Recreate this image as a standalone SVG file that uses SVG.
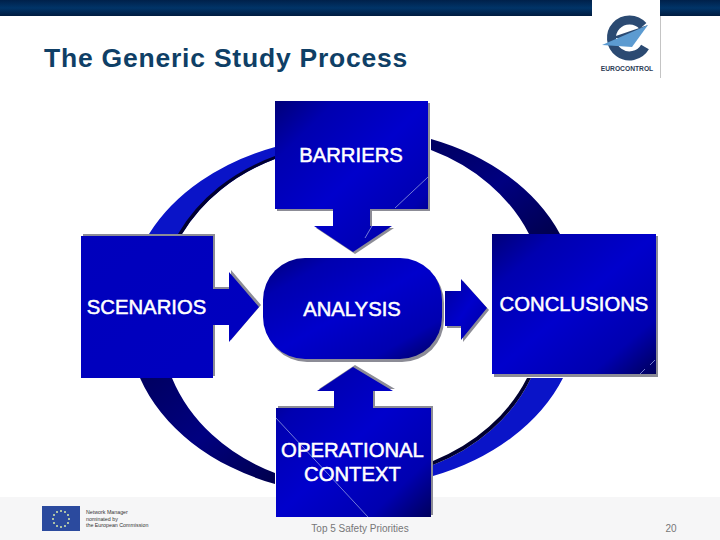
<svg xmlns="http://www.w3.org/2000/svg" width="720" height="540" viewBox="0 0 720 540">
<style>
.lbl{font-family:"Liberation Sans",Arial,sans-serif;font-size:20.3px;fill:#fff;stroke:#fff;stroke-width:.5px;text-anchor:middle}
.grey{fill:#8c8c96}
.thin{stroke:#8f9be0;stroke-width:.8;fill:none}
</style>
<defs>
<linearGradient id="hdr" x1="0" y1="0" x2="0" y2="1"><stop offset="0" stop-color="#00204a"/><stop offset=".5" stop-color="#013468"/><stop offset="1" stop-color="#001c40"/></linearGradient>
<linearGradient id="box" x1="0" y1="0" x2="1" y2="1"><stop offset="0" stop-color="#000078"/><stop offset=".2" stop-color="#0000b0"/><stop offset=".5" stop-color="#0000cc"/><stop offset=".8" stop-color="#0000b0"/><stop offset="1" stop-color="#00005c"/></linearGradient>
<linearGradient id="flat" x1="0" y1="0" x2="1" y2="1"><stop offset="0" stop-color="#0000bc"/><stop offset="1" stop-color="#0000c0"/></linearGradient>
<linearGradient id="arcD" x1="0" y1="0" x2="1" y2="1"><stop offset="0" stop-color="#000060"/><stop offset=".5" stop-color="#000080"/><stop offset="1" stop-color="#00004c"/></linearGradient>
</defs>
<rect width="720" height="540" fill="#fff"/>
<rect x="0" y="497" width="720" height="43" fill="#f6f6f7"/>
<g id="header">
<rect x="0" y="0" width="592" height="16" fill="url(#hdr)"/>
<rect x="660" y="0" width="60" height="16" fill="url(#hdr)"/>
<rect x="660" y="16" width="1" height="62" fill="#c4c4c4"/>
</g>
<text x="44" y="67" font-family="'Liberation Sans',Arial,sans-serif" font-size="26.500" font-weight="bold" letter-spacing=".78" fill="#0f3f66">The Generic Study Process</text>
<g id="logo">
<path d="M643 26A18 18 0 1 0 645 47" fill="none" stroke="#2b4a72" stroke-width="9"/>
<path d="M610 38L648 25L630 38Z" fill="#2b4a72"/>
<path d="M602 45L648 25L632 47Z" fill="#5c9bd1"/>
<text x="627" y="71" font-family="'Liberation Sans',Arial,sans-serif" font-size="6.700" font-weight="bold" fill="#2b3b55" text-anchor="middle">EUROCONTROL</text>
</g>
<g id="connectors">
<path d="M275 147A225 171 0 0 0 149 234L182 234A191 163 0 0 1 275 159Z" fill="#0a14c8"/>
<path d="M275 156A191 163 0 0 0 178 234L182 234A191 163 0 0 1 275 159Z" fill="#000030"/>
<path d="M431 139A225 171 0 0 1 560 234L529 234A191 163 0 0 0 431 150Z" fill="url(#arcD)"/>
<path d="M140 378A225 171 0 0 0 275 484L275 473A191 163 0 0 1 172 378Z" fill="url(#arcD)"/>
<path d="M563 378A225 171 0 0 1 433 476L433 465A191 163 0 0 0 531 378Z" fill="#0a14c8"/>
<path d="M433 465A191 163 0 0 0 531 378L527 378A191 163 0 0 1 433 461Z" fill="#000030"/>
</g>
<g id="barriers">
<path class="grey" transform="translate(2,2)" d="M275 101H428V209H370V226H392L353 252L314 226H333V209H275Z"/>
<path fill="url(#box)" d="M275 101H428V209H370V226H392L353 252L314 226H333V209H275Z"/>
<path class="thin" d="M428 177L395 208M372 226L365 238"/>
<text class="lbl" x="351" y="162">BARRIERS</text>
</g>
<g id="scenarios">
<path class="grey" transform="translate(2,-2)" d="M81 236H213V289H229V272L259 307L229 342V325H213V378H81Z"/>
<path fill="url(#flat)" d="M81 236H213V289H229V272L259 307L229 342V325H213V378H81Z"/>
<text class="lbl" x="146.500" y="314">SCENARIOS</text>
</g>
<g id="analysis">
<rect class="grey" x="265" y="261" width="179" height="101" rx="42" ry="42"/>
<rect fill="url(#box)" x="263" y="258" width="179" height="101" rx="42" ry="42"/>
<text class="lbl" x="352" y="316">ANALYSIS</text>
</g>
<g id="conclusions">
<path class="grey" transform="translate(2,2)" d="M445 291H461V279L487 308L461 340V326H445Z"/>
<rect class="grey" x="494" y="236" width="164" height="141"/>
<path fill="url(#box)" d="M445 291H461V279L487 308L461 340V326H445Z"/>
<rect fill="url(#box)" x="492" y="234" width="164" height="140"/>
<path class="thin" d="M655 360L650 365M645 369L640 374"/>
<text class="lbl" x="574" y="311">CONCLUSIONS</text>
</g>
<g id="operational">
<path class="grey" transform="translate(2,-2)" d="M276 408H334V391H317L353 367L393 391H373V408H431V517H276Z"/>
<path fill="url(#box)" d="M276 408H334V391H317L353 367L393 391H373V408H431V517H276Z"/>
<path class="thin" d="M276 418L368 517"/>
<text class="lbl" x="352.500" y="457">OPERATIONAL</text>
<text class="lbl" x="352.500" y="481">CONTEXT</text>
</g>
<g id="footer">
<rect x="42" y="506" width="38" height="25" fill="#2b4a9e"/>
<g fill="#d8e8a8">
<circle cx="61" cy="511" r="1"/><circle cx="65" cy="512" r="1"/><circle cx="68" cy="515" r="1"/><circle cx="69" cy="519" r="1"/><circle cx="68" cy="523" r="1"/><circle cx="65" cy="526" r="1"/><circle cx="61" cy="527" r="1"/><circle cx="57" cy="526" r="1"/><circle cx="54" cy="523" r="1"/><circle cx="53" cy="519" r="1"/><circle cx="54" cy="515" r="1"/><circle cx="57" cy="512" r="1"/>
</g>
<g font-family="'Liberation Sans',Arial,sans-serif" font-size="5.300" fill="#333">
<text x="86" y="514">Network Manager</text>
<text x="86" y="521">nominated by</text>
<text x="86" y="527">the European Commission</text>
</g>
<text x="360" y="532" font-family="'Liberation Sans',Arial,sans-serif" font-size="10" fill="#777" text-anchor="middle">Top 5 Safety Priorities</text>
<text x="671" y="532" font-family="'Liberation Sans',Arial,sans-serif" font-size="10" fill="#777" text-anchor="middle">20</text>
</g>
</svg>
